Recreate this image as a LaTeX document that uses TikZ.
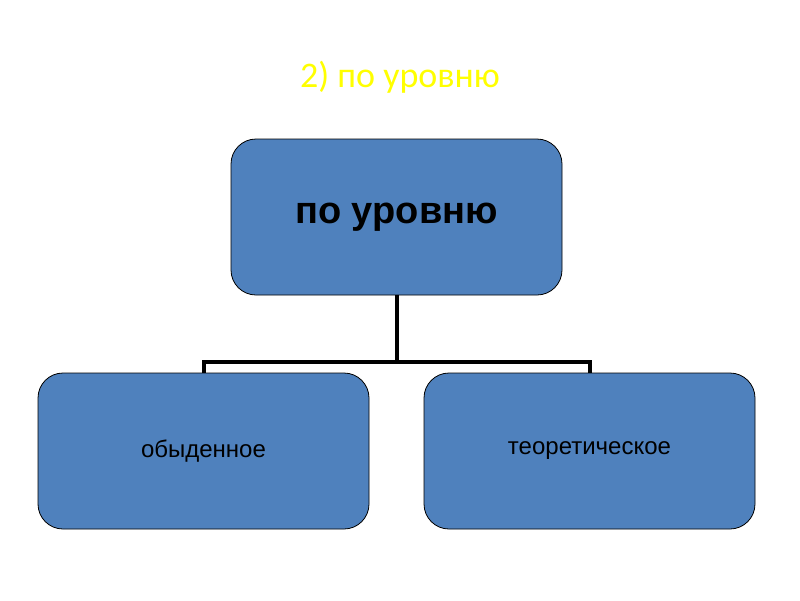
\documentclass[tikz,border=0pt]{standalone}
\usepackage{fontspec}
\setmainfont{Liberation Sans}
\newfontfamily\titlefont{Carlito}
\definecolor{boxblue}{HTML}{4F81BD}
\definecolor{ttl}{HTML}{FFFF00}
\begin{document}
\begin{tikzpicture}[x=1pt,y=-1pt,
  bx/.style={draw=black,line width=0.8pt,fill=boxblue,rounded corners=25pt,minimum width=331pt,minimum height=156pt,inner sep=0pt},
  conn/.style={line width=4pt}]
\useasboundingbox (0,0) rectangle (800,600);
\node[text=ttl,font=\titlefont\fontsize{36}{40}\selectfont] (title) at (400,77) {2) по уровню};
\node[bx,font=\bfseries\fontsize{38}{44}\selectfont] (top) at (396.5,217) {по уровню};
\node[bx,font=\fontsize{24}{28}\selectfont] (l) at (203.5,451) {обыденное};
\node[bx,font=\fontsize{24}{28}\selectfont] (r) at (589.5,451) {теоретическое};
\draw[conn] (top.south) -- ++(0,67) coordinate (j);
\draw[conn] (l.north) |- (j) -| (r.north);
\end{tikzpicture}
\end{document}
